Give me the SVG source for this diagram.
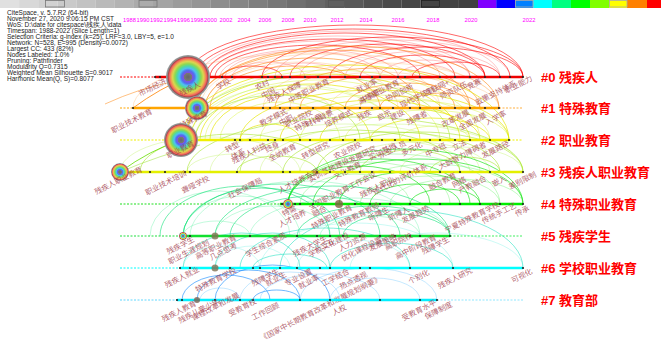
<svg xmlns="http://www.w3.org/2000/svg" width="661" height="352" viewBox="0 0 661 352">
<style>
.info{font-family:"Liberation Sans",sans-serif;font-size:6.5px;fill:#222}
.yr{font-family:"Liberation Sans",sans-serif;font-size:5.8px;fill:#ff00ff;text-anchor:middle}
.cl{font-family:"Liberation Sans","Noto Sans CJK SC",sans-serif;font-size:13px;font-weight:bold;fill:#ff0000}
.lb{font-family:"Noto Sans CJK SC",sans-serif;font-size:7.5px;fill:#a03848;fill-opacity:.8;text-anchor:end}
#connectors path{fill:none;stroke-width:.8}
.r1{stroke:#ff0000;stroke-opacity:.75}.r2{stroke:#ff3030;stroke-opacity:.35}
.o1{stroke:#ff8000;stroke-opacity:.7}.o2{stroke:#ffa040;stroke-opacity:.35}
.y1{stroke:#e6e600;stroke-opacity:.85}.y2{stroke:#d0f000;stroke-opacity:.45}
.q1{stroke:#a8e62e;stroke-opacity:.75}.q2{stroke:#b0f040;stroke-opacity:.4}
.g1{stroke:#00e000;stroke-opacity:.75}.g2{stroke:#40f040;stroke-opacity:.4}
.s1{stroke:#00e070;stroke-opacity:.7}.s2{stroke:#40f090;stroke-opacity:.4}
.c1{stroke:#20e0c0;stroke-opacity:.7}.c2{stroke:#60f0e0;stroke-opacity:.4}
.b1{stroke:#1e90ff;stroke-opacity:.8}.b2{stroke:#60c0ff;stroke-opacity:.45}
.sl{stroke-width:2.5}
.ds{stroke-width:1.2;stroke-dasharray:2 1.5}
.dot{fill:#222}
</style>
<defs>
<radialGradient id="rg">
<stop offset="0" stop-color="#666"/><stop offset=".18" stop-color="#787878"/>
<stop offset=".2" stop-color="#8050e0"/><stop offset=".3" stop-color="#5070f0"/>
<stop offset=".4" stop-color="#50c0f0"/><stop offset=".5" stop-color="#50d8a0"/>
<stop offset=".6" stop-color="#90d850"/><stop offset=".7" stop-color="#d8d850"/>
<stop offset=".78" stop-color="#f0a050"/><stop offset=".85" stop-color="#f06060"/>
<stop offset=".9" stop-color="#b04848"/><stop offset=".94" stop-color="#8a8a8a"/>
<stop offset="1" stop-color="#a0a0a0"/>
</radialGradient>
</defs>
<rect width="661" height="352" fill="#fff"/>
<g id="colorbar">
<rect x="0" y="0" width="19.2" height="8" fill="#e0e0e0"/><rect x="19.1" y="0" width="19.2" height="8" fill="#d8d8d8"/>
<rect x="38.2" y="0" width="19.2" height="8" fill="#d1d1d1"/><rect x="57.4" y="0" width="19.2" height="8" fill="#c9c9c9"/>
<rect x="76.5" y="0" width="19.2" height="8" fill="#c2c2c2"/><rect x="95.6" y="0" width="19.2" height="8" fill="#bababa"/>
<rect x="114.7" y="0" width="19.2" height="8" fill="#b3b3b3"/><rect x="133.8" y="0" width="19.2" height="8" fill="#ababab"/>
<rect x="153" y="0" width="19.2" height="8" fill="#a4a4a4"/><rect x="172.1" y="0" width="19.2" height="8" fill="#9c9c9c"/>
<rect x="191.2" y="0" width="19.2" height="8" fill="#959595"/><rect x="210.3" y="0" width="19.2" height="8" fill="#8d8d8d"/>
<rect x="229.4" y="0" width="19.2" height="8" fill="#868686"/><rect x="248.6" y="0" width="19.2" height="8" fill="#7e7e7e"/>
<rect x="267.7" y="0" width="19.2" height="8" fill="#777"/><rect x="286.8" y="0" width="19.2" height="8" fill="#6f6f6f"/>
<rect x="305.9" y="0" width="19.2" height="8" fill="#686868"/><rect x="325" y="0" width="19.2" height="8" fill="#606060"/>
<rect x="344.2" y="0" width="19.2" height="8" fill="#595959"/><rect x="363.3" y="0" width="19.2" height="8" fill="#515151"/>
<rect x="382.4" y="0" width="19.2" height="8" fill="#4a4a4a"/><rect x="401.5" y="0" width="19.2" height="8" fill="#464646"/>
<rect x="420.6" y="0" width="19.2" height="8" fill="#444"/><rect x="439.7" y="0" width="19.2" height="8" fill="#424242"/>
<rect x="458.9" y="0" width="19.2" height="8" fill="#404040"/>
<rect x="478" y="0" width="18.5" height="8" fill="#8000ff"/><rect x="496.3" y="0" width="19" height="8" fill="#0000ff"/>
<rect x="515" y="0" width="18.5" height="8" fill="#0080ff"/><rect x="533.3" y="0" width="19" height="8" fill="#00ffff"/>
<rect x="552" y="0" width="19.2" height="8" fill="#00ff80"/><rect x="571" y="0" width="19.2" height="8" fill="#00ff00"/>
<rect x="590" y="0" width="19.2" height="8" fill="#80ff00"/><rect x="609" y="0" width="18.3" height="8" fill="#ffff00"/>
<rect x="627" y="0" width="20.2" height="8" fill="#ff8000"/><rect x="647" y="0" width="14" height="8" fill="#ff0000"/>
<g fill="none" stroke="#777" stroke-width=".8">
<rect x="45.5" y=".5" width="19" height="6.5"/><rect x="139" y=".5" width="18" height="6.5"/>
<rect x="328.5" y=".5" width="16" height="6.5" stroke="#555"/><rect x="421.5" y=".5" width="18" height="6.5" stroke="#222"/>
<rect x="515.5" y=".5" width="17.5" height="6.5" stroke="#aaa"/><rect x="609.5" y=".5" width="17.5" height="6.5" stroke="#aaa"/>
</g>
</g>
<g id="info">
<text class="info" x="7" y="14.7">CiteSpace, v. 5.7.R2 (64-bit)</text>
<text class="info" x="7" y="20.7">November 27, 2020 9:06:15 PM CST</text>
<text class="info" x="7" y="26.7">WoS: D:\date for citespace\残疾人\data</text>
<text class="info" x="7" y="32.7">Timespan: 1988-2022 (Slice Length=1)</text>
<text class="info" x="7" y="38.7">Selection Criteria: g-index (k=25), LRF=3.0, LBY=5, e=1.0</text>
<text class="info" x="7" y="44.7">Network: N=528, E=995 (Density=0.0072)</text>
<text class="info" x="7" y="50.7">Largest CC: 433 (82%)</text>
<text class="info" x="7" y="56.7">Nodes Labeled: 1.0%</text>
<text class="info" x="7" y="62.7">Pruning: Pathfinder</text>
<text class="info" x="7" y="68.7">Modularity Q=0.7315</text>
<text class="info" x="7" y="74.7">Weighted Mean Silhouette S=0.9017</text>
<text class="info" x="7" y="80.7">Harmonic Mean(Q, S)=0.8077</text>
</g>
<g id="years">
<text class="yr" x="129.5" y="22">1988</text><text class="yr" x="143" y="22">1990</text>
<text class="yr" x="156.5" y="22">1992</text><text class="yr" x="170" y="22">1994</text>
<text class="yr" x="183.5" y="22">1996</text><text class="yr" x="197" y="22">1998</text>
<text class="yr" x="210.5" y="22">2000</text><text class="yr" x="226" y="22">2002</text>
<text class="yr" x="244" y="22">2004</text><text class="yr" x="265" y="22">2006</text>
<text class="yr" x="288" y="22">2008</text><text class="yr" x="310" y="22">2010</text>
<text class="yr" x="337" y="22">2012</text><text class="yr" x="366" y="22">2014</text>
<text class="yr" x="398" y="22">2016</text><text class="yr" x="433" y="22">2018</text>
<text class="yr" x="471" y="22">2020</text><text class="yr" x="529" y="22">2022</text>
</g>
<g id="connectors">
<path class="r1" d="M188 77A167.5 52 0 0 1 523 77"/><path class="r1" d="M195 77A157.5 48 0 0 1 510 77"/>
<path class="r2" d="M200 77A150 46 0 0 1 500 77"/><path class="r1" d="M205 77A140 44 0 0 1 485 77"/>
<path class="r2" d="M205 77A132.5 41 0 0 1 470 77"/><path class="r1" d="M210 77A122.5 38 0 0 1 455 77"/>
<path class="r2" d="M210 77A115 36 0 0 1 440 77"/><path class="r1" d="M215 77A102.5 32 0 0 1 420 77"/>
<path class="r2" d="M220 77A89 28 0 0 1 398 77"/><path class="r2" d="M225 77A77.5 26 0 0 1 380 77"/>
<path class="r1" d="M262 77A130.5 40 0 0 1 523 77"/><path class="r2" d="M275 77A117.5 37 0 0 1 510 77"/>
<path class="r1" d="M290 77A97.5 33 0 0 1 485 77"/><path class="r2" d="M300 77A85 30 0 0 1 470 77"/>
<path class="r1" d="M330 77A96.5 30 0 0 1 523 77"/><path class="r2" d="M345 77A77.5 26 0 0 1 500 77"/>
<path class="r1" d="M360 77A62.5 22 0 0 1 485 77"/><path class="r2" d="M380 77A45 17 0 0 1 470 77"/>
<path class="r2" d="M262 77A41.5 14 0 0 1 345 77"/><path class="r2" d="M232 77A36.5 15 0 0 1 305 77"/>
<path class="r1" d="M222 77A30 11 0 0 1 282 77"/><path class="r2" d="M398 77A28.5 12 0 0 1 455 77"/>
<path class="r1" d="M412 77A44 15 0 0 1 500 77"/>
<path class="o1" d="M197 108A151 62 0 0 1 499 108"/><path class="o2" d="M133 108A183 55 0 0 1 499 108"/>
<path class="o1" d="M197 108A136.5 58 0 0 1 470 108"/><path class="o2" d="M200 108A120 54 0 0 1 440 108"/>
<path class="o1" d="M205 108A107.5 50 0 0 1 420 108"/><path class="o2" d="M205 108A96.5 46 0 0 1 398 108"/>
<path class="o1" d="M210 108A85 42 0 0 1 380 108"/><path class="o2" d="M263 108A118 45 0 0 1 499 108"/>
<path class="o1" d="M275 108A102.5 40 0 0 1 480 108"/><path class="o2" d="M290 108A90 36 0 0 1 470 108"/>
<path class="o1" d="M300 108A77.5 32 0 0 1 455 108"/><path class="o2" d="M330 108A84.5 30 0 0 1 499 108"/>
<path class="o1" d="M345 108A62.5 25 0 0 1 470 108"/><path class="o2" d="M360 108A40 20 0 0 1 440 108"/>
<path class="o1" d="M380 108A20 12 0 0 1 420 108"/><path class="o2" d="M263 108A33.5 14 0 0 1 330 108"/>
<path class="o1" d="M405 108A37.5 15 0 0 1 480 108"/>
<path class="y1" d="M181 140A164 75 0 0 1 509 140"/><path class="y2" d="M185 140A147.5 70 0 0 1 480 140"/>
<path class="y1" d="M190 140A135 66 0 0 1 460 140"/><path class="y2" d="M195 140A122.5 60 0 0 1 440 140"/>
<path class="y1" d="M200 140A110 56 0 0 1 420 140"/><path class="y2" d="M205 140A97.5 52 0 0 1 400 140"/>
<path class="y1" d="M210 140A80 46 0 0 1 370 140"/><path class="y2" d="M220 140A60 38 0 0 1 340 140"/>
<path class="y1" d="M240 140A134.5 50 0 0 1 509 140"/><path class="y2" d="M260 140A115 45 0 0 1 490 140"/>
<path class="y1" d="M280 140A95 40 0 0 1 470 140"/><path class="y2" d="M300 140A104.5 40 0 0 1 509 140"/>
<path class="y1" d="M320 140A80 32 0 0 1 480 140"/><path class="y2" d="M345 140A82 30 0 0 1 509 140"/>
<path class="y1" d="M370 140A60 22 0 0 1 490 140"/><path class="y2" d="M400 140A35 14 0 0 1 470 140"/>
<path class="y1" d="M240 140A30 16 0 0 1 300 140"/>
<path class="q1" d="M183 140A133.5 64 0 0 1 450 140"/><path class="q2" d="M190 140A105 55 0 0 1 400 140"/>
<path class="q1" d="M195 140A82.5 45 0 0 1 360 140"/>
<path class="q1" d="M187 172A168 55 0 0 1 523 172"/><path class="q2" d="M210 172A135 48 0 0 1 480 172"/>
<path class="q1" d="M240 172A110 42 0 0 1 460 172"/><path class="q2" d="M260 172A131.5 48 0 0 1 523 172"/>
<path class="q1" d="M283 172A108.5 40 0 0 1 500 172"/><path class="q2" d="M300 172A85 32 0 0 1 470 172"/>
<path class="q1" d="M317 172A103 40 0 0 1 523 172"/><path class="q2" d="M340 172A75 30 0 0 1 490 172"/>
<path class="q1" d="M360 172A50 22 0 0 1 460 172"/><path class="q2" d="M400 172A61.5 25 0 0 1 523 172"/>
<path class="q1" d="M430 172A35 15 0 0 1 500 172"/><path class="q2" d="M187 172A48 18 0 0 1 283 172"/>
<path class="q1" d="M237 172A40 16 0 0 1 317 172"/><path class="q2" d="M120 172A90 35 0 0 1 300 172"/>
<path class="q1" d="M140 172A95 38 0 0 1 330 172"/>
<path class="g1" d="M288 204A117.5 55 0 0 1 523 204"/><path class="g2" d="M288 204A106 50 0 0 1 500 204"/>
<path class="g1" d="M288 204A91 45 0 0 1 470 204"/><path class="g2" d="M288 204A81 42 0 0 1 450 204"/>
<path class="g1" d="M288 204A71 38 0 0 1 430 204"/><path class="g2" d="M300 204A55 30 0 0 1 410 204"/>
<path class="g1" d="M313 204A105 45 0 0 1 523 204"/><path class="g2" d="M339 204A92 40 0 0 1 523 204"/>
<path class="g1" d="M339 204A70.5 32 0 0 1 480 204"/><path class="g2" d="M360 204A70 28 0 0 1 500 204"/>
<path class="g1" d="M370 204A45 20 0 0 1 460 204"/><path class="g2" d="M390 204A66.5 25 0 0 1 523 204"/>
<path class="g1" d="M410 204A35 15 0 0 1 480 204"/>
<path class="s1" d="M183 236A78.5 48 0 0 1 340 236"/><path class="s2" d="M183 236A58.5 40 0 0 1 300 236"/>
<path class="s1" d="M183 236A98.5 52 0 0 1 380 236"/><path class="s2" d="M190 236A115 55 0 0 1 420 236"/>
<path class="s1" d="M215 236A117.5 50 0 0 1 450 236"/><path class="s2" d="M215 236A57.5 30 0 0 1 330 236"/>
<path class="s1" d="M230 236A85 40 0 0 1 400 236"/><path class="s2" d="M250 236A100 38 0 0 1 450 236"/>
<path class="s1" d="M297 236A76.5 30 0 0 1 450 236"/><path class="s2" d="M320 236A50 20 0 0 1 420 236"/>
<path class="s1" d="M343 236A53.5 22 0 0 1 450 236"/><path class="s2" d="M183 236A33.5 15 0 0 1 250 236"/>
<path class="s2" d="M150 236A70 45 0 0 1 290 236"/><path class="s1" d="M160 236A85 50 0 0 1 330 236"/>
<path class="c1" d="M183 268A58.5 35 0 0 1 300 268"/><path class="c2" d="M183 268A38.5 22 0 0 1 260 268"/>
<path class="c1" d="M215 268A57.5 35 0 0 1 330 268"/><path class="c2" d="M215 268A37.5 22 0 0 1 290 268"/>
<path class="c1" d="M240 268A85 40 0 0 1 410 268"/><path class="c2" d="M260 268A96.5 45 0 0 1 453 268"/>
<path class="c1" d="M280 268A121.5 58 0 0 1 523 268"/><path class="c2" d="M297 268A56.5 28 0 0 1 410 268"/>
<path class="c1" d="M330 268A61.5 25 0 0 1 453 268"/><path class="c2" d="M350 268A86.5 35 0 0 1 523 268"/>
<path class="c1" d="M253 268A37 14 0 0 1 327 268"/>
<path class="b1" d="M182 300A44 25 0 0 1 270 300"/><path class="b1" d="M197 300A51.5 30 0 0 1 300 300"/>
<path class="b2" d="M200 300A20 12 0 0 1 240 300"/><path class="b1" d="M215 300A57.5 35 0 0 1 330 300"/>
<path class="b2" d="M240 300A50 28 0 0 1 340 300"/><path class="b2" d="M260 300A60 26 0 0 1 380 300"/>
<path class="b2" d="M300 300A68.5 32 0 0 1 437 300"/><path class="b2" d="M330 300A45 22 0 0 1 420 300"/>
<path class="b1" d="M253 300A23.5 10 0 0 1 300 300"/>
<path d="M120 172Q150 150 181 140" stroke="#66dd00" stroke-width="1.5"/>
<path d="M120 172Q160 155 200 145" stroke="#90e020" stroke-opacity=".6"/>
<path d="M181 140Q190 120 197 108" stroke="#ffc000" stroke-width="1.2"/>
<path d="M197 108Q195 90 188 77" stroke="#ff8000" stroke-width="1.2"/>
<path d="M133 108Q160 88 188 77" stroke="#ff8000"/>
<path d="M105 104Q140 88 172 82" stroke="#ff9020" stroke-opacity=".7"/>
</g>
<g id="cluster0">
<line x1="120" y1="77" x2="155" y2="77" stroke="#ff0000" class="ds"/>
<line x1="155" y1="77" x2="523" y2="77" stroke="#ee0000" class="sl"/>
<g class="dot"><circle cx="155" cy="77" r="1.1"/><circle cx="160" cy="77" r="1.1"/><circle cx="170" cy="77" r="1.1"/><circle cx="222" cy="77" r="1.1"/><circle cx="232" cy="77" r="1.1"/><circle cx="262" cy="77" r="1.1"/><circle cx="268" cy="77" r="1.1"/><circle cx="275" cy="77" r="1.1"/><circle cx="282" cy="77" r="1.1"/><circle cx="290" cy="77" r="1.1"/><circle cx="305" cy="77" r="1.1"/><circle cx="318" cy="77" r="1.1"/><circle cx="330" cy="77" r="1.1"/><circle cx="345" cy="77" r="1.1"/><circle cx="360" cy="77" r="1.1"/><circle cx="372" cy="77" r="1.1"/><circle cx="380" cy="77" r="1.1"/><circle cx="398" cy="77" r="1.1"/><circle cx="405" cy="77" r="1.1"/><circle cx="420" cy="77" r="1.1"/><circle cx="440" cy="77" r="1.1"/><circle cx="455" cy="77" r="1.1"/><circle cx="470" cy="77" r="1.1"/><circle cx="485" cy="77" r="1.1"/><circle cx="500" cy="77" r="1.1"/><circle cx="510" cy="77" r="1.1"/><circle cx="523" cy="77" r="1.1"/></g>
<circle cx="188" cy="77" r="22" fill="url(#rg)"/>
<text class="lb" x="167" y="83" transform="rotate(-27 167 83)">市场经济</text>
<text class="lb" x="201" y="86" transform="rotate(-27 201 86)">残疾人</text>
<text class="lb" x="231" y="83" transform="rotate(-27 231 83)">学校</text>
<text class="lb" x="270" y="84" transform="rotate(-27 270 84)">农村</text>
<text class="lb" x="276" y="92" transform="rotate(-27 276 92)">中国</text>
<text class="lb" x="302" y="86" transform="rotate(-27 302 86)">残疾人保障</text>
<text class="lb" x="330" y="83" transform="rotate(-27 330 83)">中等职业教育</text>
<text class="lb" x="378" y="83" transform="rotate(-27 378 83)">就业率</text>
<text class="lb" x="382" y="93" transform="rotate(-27 382 93)">中高职</text>
<text class="lb" x="400" y="84" transform="rotate(-27 400 84)">高等职业教育</text>
<text class="lb" x="414" y="88" transform="rotate(-27 414 88)">协同创新</text>
<text class="lb" x="435" y="91" transform="rotate(-27 435 91)">现代学徒制</text>
<text class="lb" x="450" y="84" transform="rotate(-27 450 84)">互联网+</text>
<text class="lb" x="468" y="86" transform="rotate(-27 468 86)">师资队伍</text>
<text class="lb" x="482" y="83" transform="rotate(-27 482 83)">竞赛</text>
<text class="lb" x="517" y="85" transform="rotate(-27 517 85)">政策支持体系</text>
<text class="lb" x="533" y="80" transform="rotate(-27 533 80)">职业能力</text>
<text class="cl" x="541" y="82">#0 残疾人</text>
</g>
<g id="cluster1">
<line x1="120" y1="108" x2="133" y2="108" stroke="#ffa500" class="ds"/>
<line x1="133" y1="108" x2="499" y2="108" stroke="#ffa500" class="sl"/>
<line x1="499" y1="108" x2="523" y2="108" stroke="#ffb040" class="ds"/>
<g class="dot"><circle cx="133" cy="108" r="1.1"/><circle cx="263" cy="108" r="1.1"/><circle cx="270" cy="108" r="1.1"/><circle cx="280" cy="108" r="1.1"/><circle cx="290" cy="108" r="1.1"/><circle cx="300" cy="108" r="1.1"/><circle cx="313" cy="108" r="1.1"/><circle cx="330" cy="108" r="1.1"/><circle cx="345" cy="108" r="1.1"/><circle cx="360" cy="108" r="1.1"/><circle cx="372" cy="108" r="1.1"/><circle cx="380" cy="108" r="1.1"/><circle cx="393" cy="108" r="1.1"/><circle cx="410" cy="108" r="1.1"/><circle cx="420" cy="108" r="1.1"/><circle cx="440" cy="108" r="1.1"/><circle cx="455" cy="108" r="1.1"/><circle cx="470" cy="108" r="1.1"/><circle cx="485" cy="108" r="1.1"/><circle cx="499" cy="108" r="1.1"/></g>
<circle cx="197" cy="108" r="12" fill="url(#rg)"/>
<text class="lb" x="153" y="113" transform="rotate(-27 153 113)">职业技术教育</text>
<text class="lb" x="208" y="115" transform="rotate(-27 208 115)">特殊教育</text>
<text class="lb" x="288" y="113" transform="rotate(-27 288 113)">教学模式</text>
<text class="lb" x="294" y="119" transform="rotate(-27 294 119)">中职</text>
<text class="lb" x="313" y="114" transform="rotate(-27 313 114)">职业院校</text>
<text class="lb" x="323" y="118" transform="rotate(-27 323 118)">特殊儿童</text>
<text class="lb" x="334" y="114" transform="rotate(-27 334 114)">时代背景</text>
<text class="lb" x="353" y="114" transform="rotate(-27 353 114)">培养模式</text>
<text class="lb" x="372" y="114" transform="rotate(-27 372 114)">残疾</text>
<text class="lb" x="392" y="114" transform="rotate(-27 392 114)">启示</text>
<text class="lb" x="405" y="114" transform="rotate(-27 405 114)">建设</text>
<text class="lb" x="428" y="115" transform="rotate(-27 428 115)">残障者</text>
<text class="lb" x="470" y="114" transform="rotate(-27 470 114)">改革发展</text>
<text class="lb" x="487" y="117" transform="rotate(-27 487 117)">全面发展</text>
<text class="lb" x="507" y="115" transform="rotate(-27 507 115)">入学率</text>
<text class="cl" x="541" y="113">#1 特殊教育</text>
</g>
<g id="cluster2">
<line x1="120" y1="140" x2="165" y2="140" stroke="#f0f000" class="ds"/>
<line x1="165" y1="140" x2="509" y2="140" stroke="#f0f000" class="sl"/>
<line x1="509" y1="140" x2="523" y2="140" stroke="#f0f000" class="ds"/>
<g class="dot"><circle cx="235" cy="140" r="1.1"/><circle cx="240" cy="140" r="1.1"/><circle cx="250" cy="140" r="1.1"/><circle cx="268" cy="140" r="1.1"/><circle cx="275" cy="140" r="1.1"/><circle cx="283" cy="140" r="1.1"/><circle cx="300" cy="140" r="1.1"/><circle cx="310" cy="140" r="1.1"/><circle cx="330" cy="140" r="1.1"/><circle cx="343" cy="140" r="1.1"/><circle cx="355" cy="140" r="1.1"/><circle cx="372" cy="140" r="1.1"/><circle cx="382" cy="140" r="1.1"/><circle cx="395" cy="140" r="1.1"/><circle cx="410" cy="140" r="1.1"/><circle cx="430" cy="140" r="1.1"/><circle cx="440" cy="140" r="1.1"/><circle cx="455" cy="140" r="1.1"/><circle cx="470" cy="140" r="1.1"/><circle cx="490" cy="140" r="1.1"/><circle cx="509" cy="140" r="1.1"/></g>
<circle cx="181" cy="140" r="17" fill="url(#rg)"/>
<text class="lb" x="195" y="145" transform="rotate(-27 195 145)">职业教育</text>
<text class="lb" x="240" y="146" transform="rotate(-27 240 146)">转型</text>
<text class="lb" x="246" y="153" transform="rotate(-27 246 153)">体系</text>
<text class="lb" x="267" y="147" transform="rotate(-27 267 147)">残疾人利益</text>
<text class="lb" x="280" y="146" transform="rotate(-27 280 146)">终身</text>
<text class="lb" x="297" y="148" transform="rotate(-27 297 148)">全纳教育</text>
<text class="lb" x="330" y="146" transform="rotate(-27 330 146)">转型研究</text>
<text class="lb" x="362" y="146" transform="rotate(-27 362 146)">农业院校</text>
<text class="lb" x="377" y="150" transform="rotate(-27 377 150)">发展研究</text>
<text class="lb" x="397" y="147" transform="rotate(-27 397 147)">实训基地</text>
<text class="lb" x="407" y="145" transform="rotate(-27 407 145)">从业人员</text>
<text class="lb" x="423" y="146" transform="rotate(-27 423 146)">多元化</text>
<text class="lb" x="447" y="147" transform="rotate(-27 447 147)">中专班</text>
<text class="lb" x="467" y="144" transform="rotate(-27 467 144)">立法</text>
<text class="lb" x="487" y="146" transform="rotate(-27 487 146)">大龄智力障碍者</text>
<text class="lb" x="510" y="145" transform="rotate(-27 510 145)">发展路径</text>
<text class="lb" x="350" y="162" transform="rotate(-27 350 162)">实训基地建设</text>
<text class="lb" x="362" y="166" transform="rotate(-27 362 166)">文化教育</text>
<text class="cl" x="541" y="145">#2 职业教育</text>
</g>
<g id="cluster3">
<line x1="120" y1="172" x2="523" y2="172" stroke="#e4f000" class="sl"/>
<g class="dot"><circle cx="150" cy="172" r="1.1"/><circle cx="165" cy="172" r="1.1"/><circle cx="185" cy="172" r="1.1"/><circle cx="190" cy="172" r="1.1"/><circle cx="237" cy="172" r="1.1"/><circle cx="283" cy="172" r="1.1"/><circle cx="290" cy="172" r="1.1"/><circle cx="317" cy="172" r="1.1"/><circle cx="330" cy="172" r="1.1"/><circle cx="345" cy="172" r="1.1"/><circle cx="360" cy="172" r="1.1"/><circle cx="372" cy="172" r="1.1"/><circle cx="390" cy="172" r="1.1"/><circle cx="410" cy="172" r="1.1"/><circle cx="440" cy="172" r="1.1"/><circle cx="460" cy="172" r="1.1"/><circle cx="490" cy="172" r="1.1"/><circle cx="523" cy="172" r="1.1"/></g>
<circle cx="120" cy="172" r="9" fill="url(#rg)"/>
<text class="lb" x="143" y="171" transform="rotate(-27 143 171)">残疾人职业教育</text>
<text class="lb" x="187" y="175" transform="rotate(-27 187 175)">职业技术培训</text>
<text class="lb" x="210" y="180" transform="rotate(-27 210 180)">聋哑学校</text>
<text class="lb" x="263" y="182" transform="rotate(-27 263 182)">社会保障局</text>
<text class="lb" x="320" y="173" transform="rotate(-27 320 173)">人才培养方案</text>
<text class="lb" x="377" y="176" transform="rotate(-27 377 176)">全国职业教育工作会议</text>
<text class="lb" x="395" y="181" transform="rotate(-27 395 181)">残疾人职业</text>
<text class="lb" x="428" y="168" transform="rotate(-27 428 168)">现代化的评价体系</text>
<text class="lb" x="457" y="177" transform="rotate(-27 457 177)">融合教育</text>
<text class="lb" x="467" y="181" transform="rotate(-27 467 181)">网络</text>
<text class="lb" x="487" y="180" transform="rotate(-27 487 180)">产教融合</text>
<text class="lb" x="507" y="180" transform="rotate(-27 507 180)">嵌入</text>
<text class="lb" x="537" y="176" transform="rotate(-27 537 176)">差别限制</text>
<text class="cl" x="541" y="177">#3 残疾人职业教育</text>
</g>
<g id="cluster4">
<line x1="120" y1="204" x2="280" y2="204" stroke="#20e020" class="ds"/>
<line x1="280" y1="204" x2="523" y2="204" stroke="#00ee00" class="sl"/>
<g class="dot"><circle cx="282" cy="204" r="1.1"/><circle cx="295" cy="204" r="1.1"/><circle cx="300" cy="204" r="1.1"/><circle cx="313" cy="204" r="1.1"/><circle cx="355" cy="204" r="1.1"/><circle cx="370" cy="204" r="1.1"/><circle cx="380" cy="204" r="1.1"/><circle cx="390" cy="204" r="1.1"/><circle cx="410" cy="204" r="1.1"/><circle cx="440" cy="204" r="1.1"/><circle cx="460" cy="204" r="1.1"/><circle cx="480" cy="204" r="1.1"/><circle cx="500" cy="204" r="1.1"/><circle cx="523" cy="204" r="1.1"/></g>
<circle cx="288" cy="204" r="5" fill="url(#rg)"/>
<circle cx="339" cy="204" r="4" fill="#806040" fill-opacity=".8"/>
<text class="lb" x="297" y="210" transform="rotate(-27 297 210)">特需</text>
<text class="lb" x="307" y="214" transform="rotate(-27 307 214)">人才培养</text>
<text class="lb" x="327" y="210" transform="rotate(-27 327 210)">融合</text>
<text class="lb" x="353" y="209" transform="rotate(-27 353 209)">特殊职业教育</text>
<text class="lb" x="380" y="207" transform="rotate(-27 380 207)">特殊教育教师</text>
<text class="lb" x="390" y="211" transform="rotate(-27 390 211)">听障生</text>
<text class="lb" x="410" y="211" transform="rotate(-27 410 211)">听障人</text>
<text class="lb" x="430" y="210" transform="rotate(-27 430 210)">发展趋势</text>
<text class="lb" x="500" y="206" transform="rotate(-27 500 206)">宁夏特殊教育学校</text>
<text class="lb" x="517" y="207" transform="rotate(-27 517 207)">传统手工艺</text>
<text class="lb" x="530" y="210" transform="rotate(-27 530 210)">传承</text>
<text class="cl" x="541" y="209">#4 特殊职业教育</text>
</g>
<g id="cluster5">
<line x1="120" y1="236" x2="180" y2="236" stroke="#20e040" class="ds"/>
<line x1="180" y1="236" x2="450" y2="236" stroke="#10e030" class="sl"/>
<line x1="450" y1="236" x2="523" y2="236" stroke="#40f060" class="ds"/>
<g class="dot"><circle cx="190" cy="236" r="1.1"/><circle cx="250" cy="236" r="1.1"/><circle cx="297" cy="236" r="1.1"/><circle cx="317" cy="236" r="1.1"/><circle cx="330" cy="236" r="1.1"/><circle cx="343" cy="236" r="1.1"/><circle cx="360" cy="236" r="1.1"/><circle cx="380" cy="236" r="1.1"/><circle cx="395" cy="236" r="1.1"/><circle cx="410" cy="236" r="1.1"/><circle cx="420" cy="236" r="1.1"/><circle cx="450" cy="236" r="1.1"/></g>
<circle cx="183" cy="236" r="4" fill="url(#rg)"/>
<circle cx="215" cy="236" r="3.5" fill="#807050" fill-opacity=".8"/>
<text class="lb" x="195" y="241" transform="rotate(-27 195 241)">残疾学生</text>
<text class="lb" x="210" y="244" transform="rotate(-27 210 244)">职业生涯规划</text>
<text class="lb" x="237" y="239" transform="rotate(-27 237 239)">高等职业教育</text>
<text class="lb" x="238" y="247" transform="rotate(-27 238 247)">几点思考</text>
<text class="lb" x="287" y="237" transform="rotate(-27 287 237)">学生综合素质</text>
<text class="lb" x="328" y="240" transform="rotate(-27 328 240)">残疾大学生</text>
<text class="lb" x="335" y="243" transform="rotate(-27 335 243)">十二五</text>
<text class="lb" x="350" y="237" transform="rotate(-27 350 237)">学校文化建设</text>
<text class="lb" x="367" y="238" transform="rotate(-27 367 238)">人力资源</text>
<text class="lb" x="383" y="241" transform="rotate(-27 383 241)">优化课程设置</text>
<text class="lb" x="397" y="238" transform="rotate(-27 397 238)">发展策略</text>
<text class="lb" x="413" y="237" transform="rotate(-27 413 237)">高职院校</text>
<text class="lb" x="437" y="239" transform="rotate(-27 437 239)">高中阶段教育</text>
<text class="lb" x="450" y="241" transform="rotate(-27 450 241)">残障学生</text>
<text class="cl" x="541" y="241">#5 残疾学生</text>
</g>
<g id="cluster6">
<line x1="120" y1="268" x2="180" y2="268" stroke="#00ffff" class="ds"/>
<line x1="180" y1="268" x2="523" y2="268" stroke="#00ffff" class="sl"/>
<g class="dot"><circle cx="180" cy="268" r="1.1"/><circle cx="190" cy="268" r="1.1"/><circle cx="230" cy="268" r="1.1"/><circle cx="253" cy="268" r="1.1"/><circle cx="260" cy="268" r="1.1"/><circle cx="280" cy="268" r="1.1"/><circle cx="297" cy="268" r="1.1"/><circle cx="320" cy="268" r="1.1"/><circle cx="330" cy="268" r="1.1"/><circle cx="360" cy="268" r="1.1"/><circle cx="370" cy="268" r="1.1"/><circle cx="410" cy="268" r="1.1"/><circle cx="453" cy="268" r="1.1"/><circle cx="523" cy="268" r="1.1"/></g>
<circle cx="215" cy="268" r="3.5" fill="#807050" fill-opacity=".8"/>
<text class="lb" x="200" y="271" transform="rotate(-27 200 271)">残疾人就业</text>
<text class="lb" x="237" y="272" transform="rotate(-27 237 272)">特殊教育学校</text>
<text class="lb" x="280" y="273" transform="rotate(-27 280 273)">残障学生</text>
<text class="lb" x="287" y="276" transform="rotate(-27 287 276)">就业生</text>
<text class="lb" x="313" y="273" transform="rotate(-27 313 273)">专业设置</text>
<text class="lb" x="320" y="279" transform="rotate(-27 320 279)">就业率</text>
<text class="lb" x="350" y="273" transform="rotate(-27 350 273)">工学结合</text>
<text class="lb" x="368" y="276" transform="rotate(-27 368 276)">热点透视</text>
<text class="lb" x="382" y="280" transform="rotate(-27 382 280)">《国家中长期教育改革和发展规划纲要》</text>
<text class="lb" x="430" y="274" transform="rotate(-27 430 274)">个别化</text>
<text class="lb" x="473" y="272" transform="rotate(-27 473 272)">残疾人研究</text>
<text class="lb" x="533" y="273" transform="rotate(-27 533 273)">可视化</text>
<text class="cl" x="541" y="273">#6 学校职业教育</text>
</g>
<g id="cluster7">
<line x1="120" y1="300" x2="177" y2="300" stroke="#60d8ff" class="ds"/>
<line x1="177" y1="300" x2="437" y2="300" stroke="#00f0ff" class="sl"/>
<line x1="437" y1="300" x2="523" y2="300" stroke="#90e8ff" class="ds"/>
<g class="dot"><circle cx="177" cy="300" r="1.1"/><circle cx="182" cy="300" r="1.1"/><circle cx="215" cy="300" r="1.1"/><circle cx="240" cy="300" r="1.1"/><circle cx="253" cy="300" r="1.1"/><circle cx="300" cy="300" r="1.1"/><circle cx="330" cy="300" r="1.1"/><circle cx="380" cy="300" r="1.1"/><circle cx="420" cy="300" r="1.1"/><circle cx="437" cy="300" r="1.1"/></g>
<circle cx="197" cy="300" r="3" fill="#806050" fill-opacity=".8"/>
<text class="lb" x="197" y="305" transform="rotate(-27 197 305)">残疾人教育</text>
<text class="lb" x="220" y="303" transform="rotate(-27 220 303)">残疾儿童少年</text>
<text class="lb" x="240" y="297" transform="rotate(-27 240 297)">课程改革和发展</text>
<text class="lb" x="257" y="303" transform="rotate(-27 257 303)">受教育权</text>
<text class="lb" x="280" y="307" transform="rotate(-27 280 307)">工作回顾</text>
<text class="lb" x="347" y="309" transform="rotate(-27 347 309)">人权</text>
<text class="lb" x="437" y="304" transform="rotate(-27 437 304)">受教育水平</text>
<text class="lb" x="453" y="306" transform="rotate(-27 453 306)">保障制度</text>
<text class="cl" x="541" y="305">#7 教育部</text>
</g>
</svg>
